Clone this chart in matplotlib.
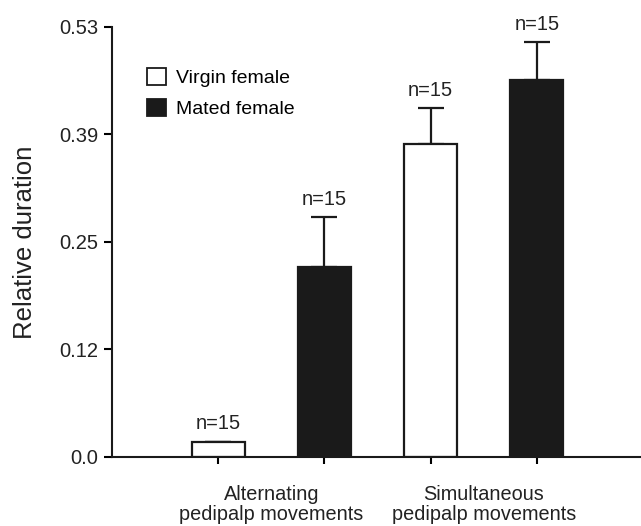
import matplotlib
matplotlib.use('Agg')
import matplotlib.pyplot as plt
from matplotlib.patches import Patch
import numpy as np

plt.rcParams['font.family'] = ['Liberation Sans', 'DejaVu Sans']

groups = ['Alternating\npedipalp movements', 'Simultaneous\npedipalp movements']
series = ['Virgin female', 'Mated female']
virgin = [0.019, 0.386]
virgin_err = [0.0, 0.044]
mated = [0.234, 0.465]
mated_err = [0.062, 0.046]
n_labels = ['n=15', 'n=15', 'n=15', 'n=15']
ytick_labels = ['0.0', '0.12', '0.25', '0.39', '0.53']

fig = plt.figure(figsize=(6.41, 5.26), dpi=100)
ax = fig.add_axes([0.1747, 0.1312, 0.8253, 0.8175])

x_virgin = np.array([1, 3])
x_mated = np.array([2, 4])
w = 0.5
ink = '#1a1a1a'
txt = '#222222'

ax.bar(x_virgin, virgin, w, color='white', edgecolor=ink, linewidth=1.6, zorder=2)
ax.bar(x_mated, mated, w, color=ink, edgecolor=ink, linewidth=1.6, zorder=2)
for xs, vals, errs in [(x_virgin, virgin, virgin_err), (x_mated, mated, mated_err)]:
    ax.errorbar(xs, vals, yerr=[np.zeros(len(errs)), errs], fmt='none',
                ecolor=ink, elinewidth=1.6, capsize=9.5, capthick=1.6, zorder=1)

tops = []
xs_all = []
for i in range(2):
    xs_all += [x_virgin[i], x_mated[i]]
    tops += [virgin[i] + virgin_err[i], mated[i] + mated_err[i]]
for xx, t, lab in zip(xs_all, tops, n_labels):
    ax.annotate(lab, (xx, t), xytext=(0, 6), textcoords='offset points',
                ha='center', va='bottom', fontsize=14.5, color=txt)

ax.set_xlim(0, 4.98)
ax.set_ylim(0, 0.53)
ax.set_yticks(np.linspace(0, 0.53, 5))
ax.set_yticklabels(ytick_labels)
ax.set_xticks([1, 2, 3, 4])
ax.set_xticklabels([])
ax.set_xticks([1.5, 3.5], minor=True)
ax.set_xticklabels(groups, minor=True)
ax.tick_params(axis='x', which='minor', length=0, pad=20, labelsize=14.3)
ax.tick_params(axis='x', which='major', length=5, width=1.5, direction='out')
ax.tick_params(axis='y', length=6, width=1.5, labelsize=14.5, pad=4)
for lab in ax.get_xticklabels(minor=True) + ax.get_yticklabels():
    lab.set_color(txt)
    lab.set_linespacing(1.1)

for s in ['top', 'right']:
    ax.spines[s].set_visible(False)
for s in ['left', 'bottom']:
    ax.spines[s].set_linewidth(1.5)
    ax.spines[s].set_color(ink)

ax.set_ylabel('Relative duration', fontsize=18.5, color=txt, labelpad=16)

handles = [Patch(facecolor='white', edgecolor=ink, linewidth=1.3, label=series[0]),
           Patch(facecolor=ink, edgecolor=ink, linewidth=1.3, label=series[1])]
ax.legend(handles=handles, loc='upper left', bbox_to_anchor=(0.066, 0.905),
          frameon=False, fontsize=14, handlelength=1.0, handleheight=1.0,
          handletextpad=0.5, labelspacing=0.6, borderpad=0, borderaxespad=0)

fig.savefig('out.png', dpi=100)
